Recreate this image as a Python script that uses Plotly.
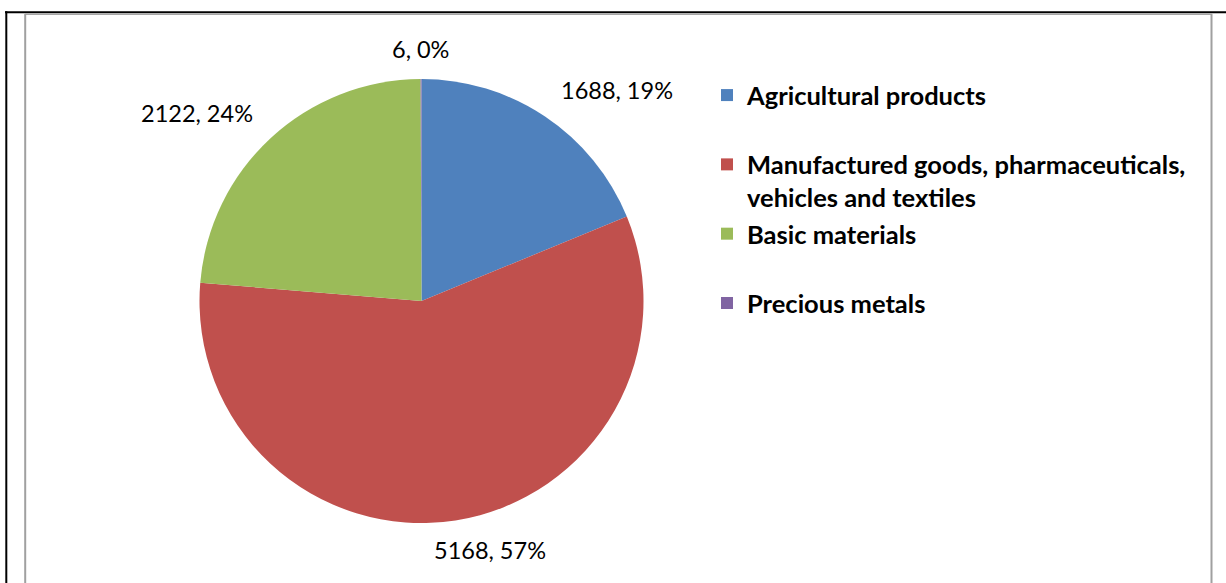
import math
import plotly.graph_objects as go

categories = ["Agricultural products",
              "Manufactured goods, pharmaceuticals, vehicles and textiles",
              "Basic materials",
              "Precious metals"]
values = [1688, 5168, 2122, 6]
pct_labels = ["19%", "57%", "24%", "0%"]
colors = ["#4F81BD", "#C0504D", "#9BBB59", "#8064A2"]

W, H = 1226, 583
def px(x):
    return x / W
def py(y):
    return 1 - y / H

# legend display text (line layout like the original: symbol on first line)
legend_text = [
    categories[0],
    " <br>Manufactured goods, pharmaceuticals,<br>vehicles and textiles",
    categories[2],
    " <br>" + categories[3] + "<br> ",
]

texts = [f"{v}, {p}" for v, p in zip(values, pct_labels)]

# pie geometry (pixels)
cx, cy, R = 421.5, 301, 222
LABEL_FONT = 23.5

fig = go.Figure(go.Pie(
    labels=legend_text,
    values=values,
    textinfo="none",
    marker=dict(colors=colors, line=dict(width=0)),
    sort=False,
    direction="clockwise",
    rotation=0,
    hoverinfo="skip",
    domain=dict(x=[px(cx - R), px(cx + R)], y=[py(cy + R), py(cy - R)]),
))

# data labels placed just outside each slice ("outside end"), from slice mid-angles
def clip(v):
    return max(-1.0, min(1.0, v))

annotations = []
total = sum(values)
cum = 0
gap = 18
for v, t in zip(values, texts):
    mid = (cum + v / 2) / total * 2 * math.pi
    cum += v
    ux, uy = math.sin(mid), math.cos(mid)
    hw = 0.293 * LABEL_FONT * len(t)
    hh = 12
    lx = cx + (R + gap) * ux + hw * clip(ux / 0.3)
    ly = cy - (R + gap) * uy - hh * clip(uy / 0.5)
    annotations.append(dict(
        x=px(lx), y=py(ly), xref="paper", yref="paper",
        text=t, showarrow=False, xanchor="center", yanchor="middle",
        font=dict(family="Lato", size=LABEL_FONT, color="black"),
    ))

shapes = [
    # outer black frame
    dict(type="line", x0=px(5), x1=px(1226), y0=py(12.3), y1=py(12.3), line=dict(color="black", width=2)),
    dict(type="line", x0=px(6.3), x1=px(6.3), y0=py(11.3), y1=py(583), line=dict(color="black", width=2)),
    # inner gray frame
    dict(type="line", x0=px(25), x1=px(1212), y0=py(14.2), y1=py(14.2), line=dict(color="#A6A6A6", width=1.5)),
    dict(type="line", x0=px(25.2), x1=px(25.2), y0=py(14), y1=py(583), line=dict(color="#A0A0A0", width=2)),
    dict(type="line", x0=px(1211.5), x1=px(1211.5), y0=py(14), y1=py(583), line=dict(color="#A0A0A0", width=2)),
]

fig.update_layout(
    width=W, height=H,
    margin=dict(l=0, r=0, t=0, b=0),
    paper_bgcolor="white",
    plot_bgcolor="white",
    shapes=shapes,
    annotations=annotations,
    showlegend=True,
    legend=dict(
        x=px(707), y=py(72), xanchor="left", yanchor="top",
        font=dict(family="Lato", size=25.5, color="black", weight="bold"),
        bgcolor="rgba(0,0,0,0)", borderwidth=0,
        itemclick=False, itemdoubleclick=False,
    ),
)

fig.write_html("out.html", config={"displayModeBar": False},
               post_script="document.body.style.margin='0';document.body.style.overflow='hidden';")
